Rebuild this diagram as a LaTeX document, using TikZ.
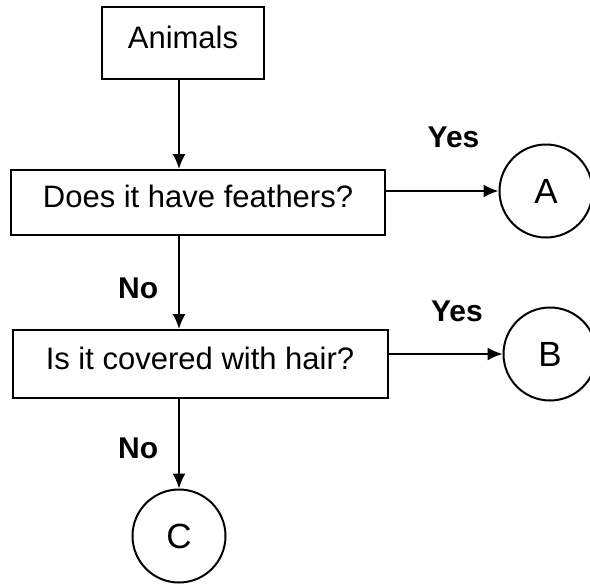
\documentclass[tikz,border=0pt]{standalone}
\usepackage{fontspec}
\setmainfont{Liberation Sans}
\usetikzlibrary{arrows.meta}

\begin{document}
\begin{tikzpicture}[x=1pt,y=-1pt,
    qbox/.style={draw,line width=2pt,inner sep=0pt,text depth=12pt,font=\fontsize{31}{37}\selectfont},
    endcircle/.style={draw,circle,line width=2pt,inner sep=0pt,minimum size=93pt,font=\fontsize{35}{42}\selectfont},
    lbl/.style={inner sep=0pt,font=\fontsize{30}{36}\selectfont\bfseries},
    >={Latex[length=15pt,width=13pt]}]
  \useasboundingbox (0,0) rectangle (590,584);

  \node [qbox,minimum width=162pt,minimum height=72pt] (animals) at (183,43) {Animals};
  \node [qbox,minimum width=374pt,minimum height=65pt] (feather-q) at (198,202.5) {Does it have feathers?};
  \node [qbox,minimum width=375pt,minimum height=68pt] (hair-q) at (200,364) {Is it covered with hair?};
  \node [endcircle] (out-a) at (546,191) {A};
  \node [endcircle] (out-b) at (550,354) {B};
  \node [endcircle] (out-c) at (179,536) {C};

  \draw[->,line width=1.8pt] (animals.south -| out-c) -- (feather-q.north -| out-c);
  \draw[->,line width=1.8pt] (feather-q.south -| out-c) -- (hair-q.north -| out-c) node[lbl,pos=.56,left=20pt] {No};
  \draw[->,line width=1.8pt] (hair-q.south -| out-c) -- (out-c) node[lbl,pos=.55,left=20pt] {No};

  \draw[->,line width=1.8pt] (feather-q.east |- out-a) -- (out-a) node[lbl,pos=.6,above=42pt] {Yes};
  \draw[->,line width=1.8pt] (hair-q.east |- out-b) -- (out-b) node[lbl,pos=.6,above=31pt] {Yes};
\end{tikzpicture}
\end{document}
